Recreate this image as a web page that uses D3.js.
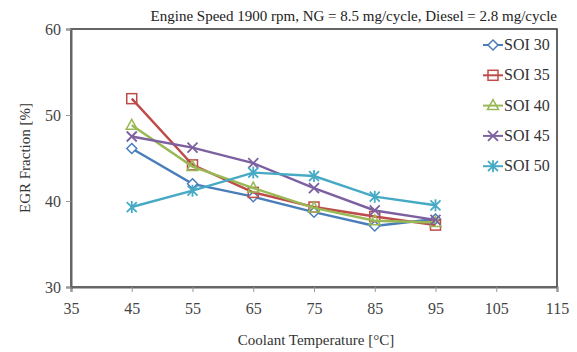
<!DOCTYPE html>
<html>
<head>
<meta charset="utf-8">
<script src="https://cdn.jsdelivr.net/npm/d3@7"></script>
<style>
  body { margin: 0; background: #fff; }
  text { font-family: "Liberation Serif", "DejaVu Serif", serif; }
</style>
</head>
<body>
<svg id="chart" width="577" height="352"></svg>
<script>
// data
var temps = [45, 55, 65, 75, 85, 95];
var soi30 = [46.1, 42.0, 40.5, 38.7, 37.1, 37.9];
var soi35 = [51.9, 44.2, 41.0, 39.3, 38.2, 37.2];
var soi40 = [48.8, 44.0, 41.5, 39.2, 37.7, 37.5];
var soi45 = [47.5, 46.2, 44.4, 41.5, 38.9, 37.8];
var soi50 = [39.3, 41.2, 43.3, 42.9, 40.5, 39.5];
var seriesNames = ["SOI 30", "SOI 35", "SOI 40", "SOI 45", "SOI 50"];
var seriesColors = ["#4a7ebb", "#be4b48", "#98b954", "#7d60a0", "#46aac5"];
var xTicks = [35, 45, 55, 65, 75, 85, 95, 105, 115];
var yTicks = [30, 40, 50, 60];

var series = [soi30, soi35, soi40, soi45, soi50].map(function(vals, i) {
    return {
        name: seriesNames[i],
        color: seriesColors[i],
        shape: ["diamond", "square", "triangle", "x", "star"][i],
        points: vals.map(function(v, j) { return {t: temps[j], v: v}; })
    };
});

var serif = "'Liberation Serif', 'Times New Roman', serif";
var margin = {left: 71, right: 20, top: 29, bottom: 65};
var width = 577 - margin.left - margin.right;
var height = 352 - margin.top - margin.bottom;

var svg = d3.select("#chart");
var g = svg.append("g").attr("transform", "translate(" + margin.left + "," + margin.top + ")");

var x = d3.scaleLinear().domain([35, 115]).range([0, width]);
var y = d3.scaleLinear().domain([30, 60]).range([height, 0]);

// frame
g.append("rect")
    .attr("width", width).attr("height", height)
    .attr("fill", "none").attr("stroke", "#333").attr("stroke-width", 1.5);

var xAxis = g.append("g")
    .attr("transform", "translate(0," + height + ")")
    .call(d3.axisBottom(x).tickValues(xTicks).tickSize(5).tickPadding(11));
var yAxis = g.append("g")
    .call(d3.axisLeft(y).tickValues(yTicks).tickSize(5).tickPadding(5));

[xAxis, yAxis].forEach(function(a) {
    a.attr("font-family", serif).attr("font-size", 16);
    a.select(".domain").attr("stroke", "#666").attr("stroke-width", 2);
    a.selectAll(".tick line").attr("stroke", "#999");
    a.selectAll(".tick text").attr("fill", "#444");
});

// marker drawing
function marker(sel, shape, color) {
    if (shape == "diamond") {
        sel.append("path").attr("d", "M0,-5L5,0L0,5L-5,0Z")
            .attr("fill", "#fff").attr("stroke", color).attr("stroke-width", 1.5);
    } else if (shape == "square") {
        sel.append("rect").attr("x", -5).attr("y", -5).attr("width", 10).attr("height", 10)
            .attr("fill", "none").attr("stroke", color).attr("stroke-width", 1.5);
    } else if (shape == "triangle") {
        sel.append("path").attr("d", "M0,-6L5.5,4L-5.5,4Z")
            .attr("fill", "none").attr("stroke", color).attr("stroke-width", 1.5);
    } else if (shape == "x") {
        sel.append("path").attr("d", "M-5,-5L5,5M-5,5L5,-5")
            .attr("stroke", color).attr("stroke-width", 1.8);
    } else {
        sel.append("path").attr("d", "M-5,-5L5,5M-5,5L5,-5M0,-6L0,6")
            .attr("stroke", color).attr("stroke-width", 1.8);
    }
}

var line = d3.line().x(d => x(d.t)).y(d => y(d.v));

series.forEach(function(s) {
    g.append("path")
        .datum(s.points)
        .attr("fill", "none")
        .attr("stroke", s.color)
        .attr("stroke-width", 2.4)
        .attr("d", line);
    g.append("g").selectAll("g")
        .data(s.points)
        .enter()
        .append("g")
        .attr("transform", d => "translate(" + x(d.t) + "," + y(d.v) + ")")
        .each(function() { marker(d3.select(this), s.shape, s.color); });
});

// legend
var legend = g.append("g").attr("transform", "translate(" + (width - 74) + ",16)");
series.forEach(function(s, i) {
    var row = legend.append("g").attr("transform", "translate(0," + (i * 30.3) + ")");
    row.append("line").attr("x1", 0).attr("x2", 20)
        .attr("stroke", s.color).attr("stroke-width", 2);
    var m = row.append("g").attr("transform", "translate(10,0)");
    marker(m, s.shape, s.color);
    row.append("text").attr("x", 21).attr("y", 5)
        .style("font-family", serif)
        .style("font-size", "16px").attr("fill", "#333")
        .text(s.name);
});

// title
svg.append("text")
    .attr("x", margin.left + width).attr("y", 21)
    .attr("text-anchor", "end")
    .style("font-family", serif)
    .style("font-size", "15px").attr("fill", "#222")
    .text("Engine Speed 1900 rpm, NG = 8.5 mg/cycle, Diesel = 2.8 mg/cycle");

// axis titles
svg.append("text")
    .attr("x", margin.left + width / 2 + 2).attr("y", 345)
    .attr("text-anchor", "middle")
    .style("font-family", serif)
    .style("font-size", "15px").attr("fill", "#333")
    .text("Coolant Temperature [°C]");
svg.append("text")
    .attr("transform", "translate(30," + (margin.top + height / 2) + ") rotate(-90)")
    .attr("text-anchor", "middle")
    .style("font-family", serif)
    .style("font-size", "15px").attr("fill", "#333")
    .text("EGR Fraction [%]");
</script>
</body>
</html>
